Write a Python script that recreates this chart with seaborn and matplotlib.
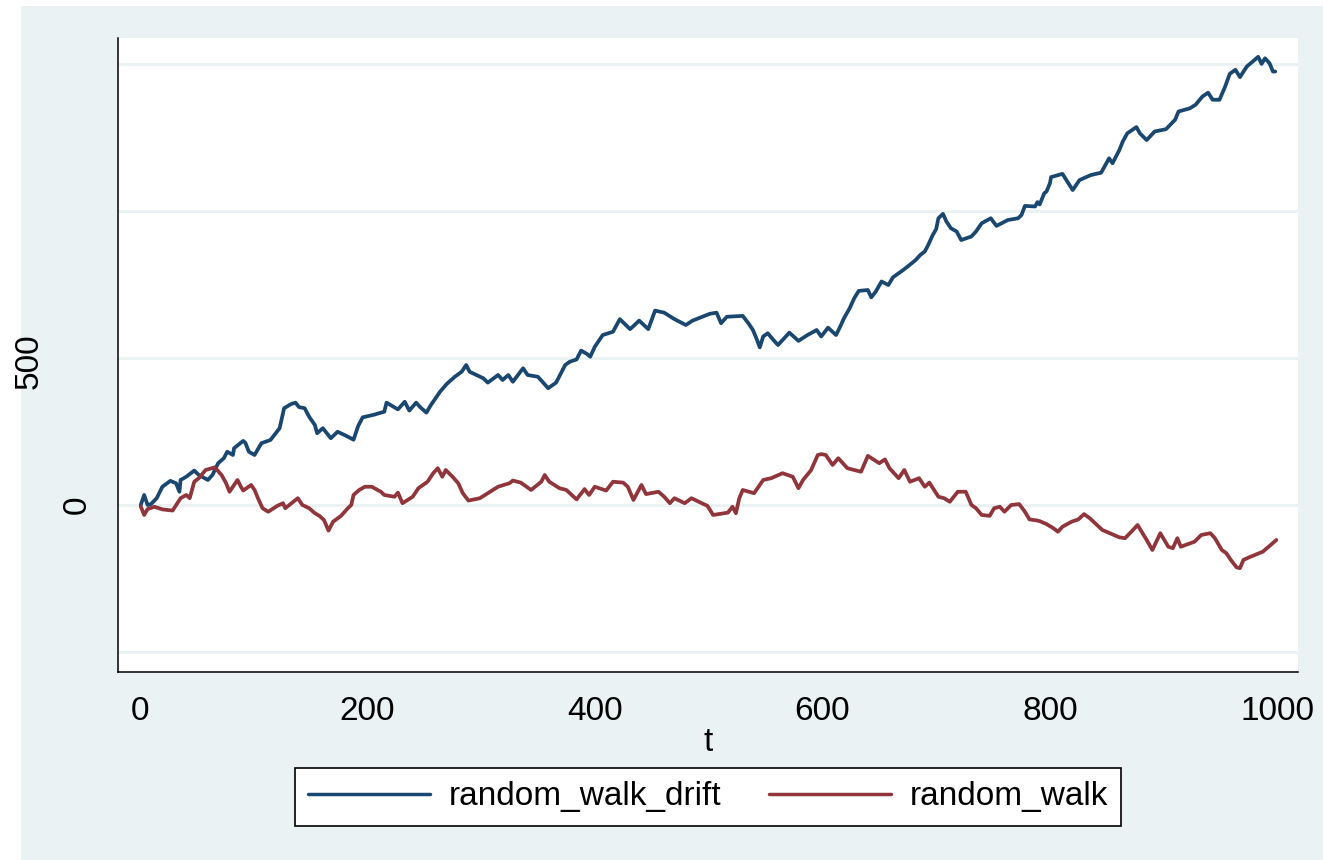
import matplotlib
matplotlib.use("Agg")
import pandas as pd
import matplotlib.pyplot as plt
import seaborn as sns
from matplotlib.lines import Line2D
from matplotlib.patches import Rectangle

# ── data ──────────────────────────────────────────────────────────────────────

t_drift = [1, 4, 7, 10, 15, 20, 27, 32, 35, 36, 41, 48, 52, 60, 64, 69, 74, 77,
           82, 83, 91, 93, 96, 101, 107, 115, 123, 127, 133, 137, 140, 145, 149,
           154, 156, 161, 168, 174, 180, 188, 192, 196, 205, 215, 217, 227, 233,
           237, 243, 247, 252, 256, 261, 264, 270, 277, 283, 287, 290, 302, 306,
           315, 319, 324, 328, 337, 341, 350, 354, 359, 366, 374, 378, 384, 388,
           393, 396, 400, 407, 416, 422, 431, 435, 439, 447, 453, 461, 470, 480,
           486, 501, 507, 511, 516, 530, 535, 539, 542, 545, 548, 552, 557, 561,
           571, 579, 587, 595, 599, 605, 612, 615, 619, 624, 628, 632, 640, 643,
           647, 652, 658, 662, 671, 675, 682, 686, 690, 693, 697, 700, 702, 706,
           709, 713, 718, 722, 731, 735, 740, 748, 753, 763, 772, 775, 778, 787,
           789, 791, 795, 797, 800, 801, 811, 820, 826, 836, 845, 852, 855, 861,
           864, 868, 876, 879, 885, 892, 902, 910, 913, 923, 928, 934, 939, 943,
           949, 954, 958, 963, 967, 973, 977, 983, 986, 989, 993, 996, 998]
drift = [0, 34, 0, 3, 23, 62, 82, 74, 45, 85, 96, 117, 102, 85, 102, 142, 159, 181,
         170, 193, 218, 211, 181, 170, 210, 221, 261, 329, 343, 348, 333, 329, 300,
         272, 244, 261, 227, 249, 238, 222, 268, 298, 306, 317, 348, 325, 351,
         321, 348, 331, 314, 340, 368, 385, 412, 436, 453, 476, 453, 431, 416,
         442, 425, 442, 419, 465, 442, 436, 419, 397, 416, 476, 487, 495, 525,
         514, 504, 538, 578, 589, 632, 598, 612, 627, 598, 661, 654, 632, 612,
         627, 650, 654, 618, 640, 643, 618, 595, 567, 536, 573, 584, 561, 544,
         586, 558, 578, 595, 573, 603, 578, 601, 635, 669, 703, 728, 731, 706,
         726, 760, 748, 774, 799, 811, 833, 850, 862, 884, 918, 938, 975, 990,
         964, 941, 930, 901, 913, 930, 958, 975, 949, 969, 975, 986, 1017, 1015,
         1030, 1022, 1060, 1066, 1094, 1115, 1126, 1071, 1105, 1122, 1130, 1179, 1162, 1207,
         1236, 1264, 1285, 1264, 1241, 1270, 1278, 1310, 1338, 1349, 1361, 1389, 1402, 1378,
         1378, 1423, 1466, 1480, 1455, 1491, 1504, 1524, 1500, 1519, 1502, 1474, 1474]

t_walk = [1, 4, 7, 13, 20, 29, 36, 41, 44, 48, 52, 58, 66, 72, 76, 79, 86, 89, 91,
          98, 101, 104, 108, 113, 121, 126, 128, 139, 143, 149, 154, 158, 162, 166,
          170, 177, 183, 186, 188, 193, 198, 204, 212, 215, 224, 227, 231, 240,
          245, 253, 258, 262, 266, 269, 275, 280, 284, 289, 299, 308, 315, 325,
          328, 335, 344, 353, 356, 360, 369, 375, 384, 391, 395, 400, 410, 416,
          425, 429, 434, 441, 445, 456, 461, 466, 470, 479, 485, 494, 499, 504,
          517, 521, 524, 527, 530, 540, 545, 548, 555, 565, 574, 579, 583, 590,
          596, 599, 603, 609, 614, 622, 634, 640, 650, 655, 659, 667, 672, 677,
          685, 690, 694, 702, 707, 712, 719, 726, 731, 735, 740, 747, 751, 756,
          760, 766, 773, 778, 782, 789, 791, 797, 803, 807, 811, 819, 825, 830,
          835, 846, 861, 866, 873, 877, 885, 890, 897, 904, 908, 912, 915, 927,
          933, 941, 945, 951, 955, 959, 964, 967, 970, 975, 987, 994, 999]
walk = [-5, -34, -14, -6, -15, -19, 23, 34, 23, 79, 91, 119, 128, 102, 74, 45, 85, 62, 49,
        68, 51, 23, -11, -23, -3, 6, -11, 23, 0, -11, -28, -37, -51, -87,
        -57, -37, -11, 0, 34, 51, 62, 62, 45, 34, 28, 42, 6, 28,
        57, 79, 108, 125, 96, 119, 96, 74, 40, 15, 23, 45, 62, 74,
        83, 76, 51, 79, 102, 79, 57, 51, 19, 54, 34, 62, 49, 79,
        76, 62, 17, 68, 37, 45, 28, 6, 23, 6, 23, 6, -3, -34,
        -26, -6, -28, 23, 51, 40, 68, 85, 91, 108, 96, 57, 85, 118,
        170, 173, 170, 136, 159, 125, 113, 167, 142, 155, 125, 91, 119, 79,
        91, 62, 76, 28, 23, 11, 45, 45, 0, -11, -34, -37, -11, -6,
        -23, 0, 3, -23, -49, -53, -55, -65, -79, -91, -74, -57, -49, -31,
        -45, -85, -110, -113, -85, -68, -119, -153, -96, -142, -147, -113, -142, -125,
        -102, -96, -113, -153, -164, -187, -212, -215, -187, -178, -159, -136, -119]

series_names = ["random_walk_drift", "random_walk"]
x_ticks = [0, 200, 400, 600, 800, 1000]
y_ticks = [-500, 0, 500, 1000, 1500]
y_tick_labels = ["", "0", "", "", ""]
y_title = "500"
x_title = "t"

PALETTE = {
    "random_walk_drift": "#1a476f",
    "random_walk":       "#90353b",
}
BG = "#eaf2f3"

df = pd.concat([
    pd.DataFrame({"t": t_drift, "value": drift, "series": series_names[0]}),
    pd.DataFrame({"t": t_walk, "value": walk, "series": series_names[1]}),
], ignore_index=True)

# ── figure ────────────────────────────────────────────────────────────────────

sns.set_theme(style="white")
plt.rcParams["font.family"] = ["Liberation Sans", "DejaVu Sans"]
plt.rcParams["text.color"] = "black"

W, H = 1323, 860
fig = plt.figure(figsize=(W / 100, H / 100), dpi=100, facecolor="white")
fig.patches.append(Rectangle((21 / W, 0), 1, (H - 6) / H, transform=fig.transFigure,
                             facecolor=BG, edgecolor="none", zorder=-1))
ax = fig.add_axes([118 / W, (H - 672) / H, 1180 / W, 634 / H])
ax.set_facecolor("white")

sns.lineplot(data=df, x="t", y="value", hue="series", palette=PALETTE,
             estimator=None, linewidth=2.7, legend=False, ax=ax)

ax.set_xlim(-19, 1018)
ax.set_ylim(-568, 1588)
ax.set_xticks(x_ticks)
ax.set_yticks(y_ticks)
ax.set_yticklabels(y_tick_labels, rotation=90, va="center")

ax.yaxis.grid(True, color=BG, linewidth=2.2)
ax.xaxis.grid(False)
ax.set_axisbelow(True)

for side in ["top", "right"]:
    ax.spines[side].set_visible(False)
for side in ["left", "bottom"]:
    ax.spines[side].set_color("black")
    ax.spines[side].set_linewidth(1.1)

ax.tick_params(axis="both", direction="out", length=9, width=1, color="black",
               labelsize=24, labelcolor="black")
ax.tick_params(axis="x", pad=8)
ax.tick_params(axis="y", pad=9)

ax.set_xlabel(x_title, fontsize=24, color="black", labelpad=0)
ax.set_ylabel(y_title, fontsize=24, color="black")
ax.yaxis.set_label_coords(-0.062, 0.49)

handles = [Line2D([], [], color=PALETTE[n], linewidth=2.5) for n in series_names]
leg = fig.legend(handles, series_names, loc="center",
                 bbox_to_anchor=(708 / W, (H - 797) / H), ncol=2, fontsize=24,
                 frameon=True, fancybox=False, edgecolor="black", facecolor="white",
                 framealpha=1, handlelength=3.66, handletextpad=0.55,
                 columnspacing=1.44, borderpad=0.4)
leg.get_frame().set_linewidth(1.2)
for txt in leg.get_texts():
    txt.set_color("black")

fig.savefig("out.png", dpi=100)
